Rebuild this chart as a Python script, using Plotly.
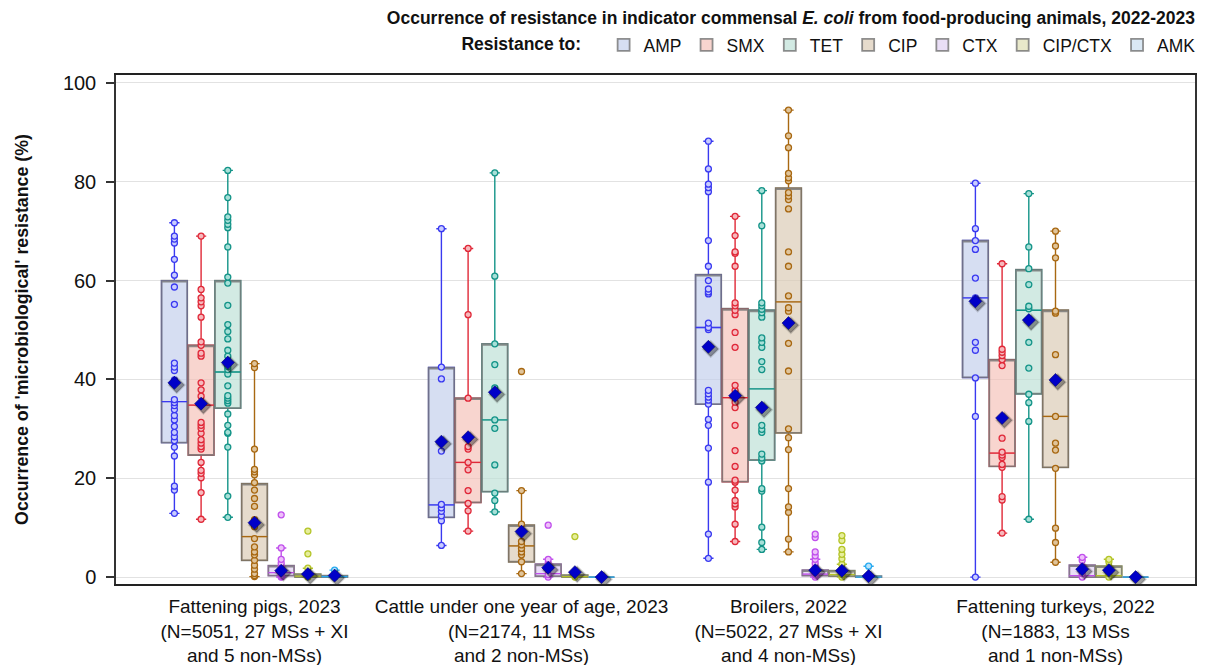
import plotly.graph_objects as go

# categories (x axis) and series
groups = [
    "Fattening pigs, 2023<br>(N=5051, 27 MSs + XI<br>and 5 non-MSs)",
    "Cattle under one year of age, 2023<br>(N=2174, 11 MSs<br>and 2 non-MSs)",
    "Broilers, 2022<br>(N=5022, 27 MSs + XI<br>and 4 non-MSs)",
    "Fattening turkeys, 2022<br>(N=1883, 13 MSs<br>and 1 non-MSs)",
]
antimicrobials = ["AMP", "SMX", "TET", "CIP", "CTX", "CIP/CTX", "AMK"]

# country-level resistance (%), per group
pigs = {
    "AMP": [71.7, 69.0, 68.4, 67.6, 64.3, 61.1, 58.7, 55.2, 43.3, 42.5, 41.8, 39.9, 35.9, 35.3, 34.7,
            33.9, 32.7, 31.8, 30.5, 29.3, 28.4, 27.6, 26.3, 24.5, 18.4, 17.6, 12.9],
    "SMX": [69.0, 58.2, 56.5, 55.7, 54.9, 52.6, 47.6, 46.9, 45.3, 44.7, 39.3, 37.9, 36.6, 35.1, 31.3,
            30.7, 30.1, 29.1, 27.8, 27.1, 26.4, 25.9, 23.2, 21.6, 21.0, 20.1, 17.1, 11.7],
    "TET": [82.3, 76.8, 72.9, 72.2, 71.4, 70.7, 66.8, 60.7, 59.5, 55.0, 51.1, 49.7, 48.2, 45.9, 44.7,
            42.6, 42.0, 41.1, 38.7, 36.7, 36.2, 35.7, 35.2, 33.0, 30.7, 29.3, 29.1, 26.3, 16.4, 12.1],
    "CIP": [43.2, 42.4, 25.9, 21.8, 21.3, 20.7, 19.1, 17.6, 15.9, 14.3, 11.6, 10.2, 7.8, 6.1, 5.1,
            4.5, 3.4, 2.4, 1.6, 0.7, 0.3, 0.1],
    "CTX": [12.6, 5.9, 3.6, 2.8, 2.1, 1.1, 0.6, 0.3, 0.1, 0.0],
    "CIP/CTX": [9.3, 4.7, 1.8, 0.7, 0.3, 0.1, 0.0],
    "AMK": [1.4, 0.4, 0.1, 0.0],
}
cattle = {
    "AMP": [70.5, 42.5, 40.1, 25.5, 14.7, 14.0, 13.3, 12.4, 11.4, 6.4],
    "SMX": [66.5, 53.1, 36.2, 28.0, 26.4, 25.9, 23.2, 21.7, 17.5, 14.9, 13.4, 9.3],
    "TET": [81.8, 60.9, 47.2, 43.0, 38.3, 31.8, 30.1, 22.7, 17.0, 15.5, 13.2],
    "CIP": [41.6, 17.5, 10.7, 7.2, 6.5, 5.8, 5.1, 4.5, 3.1, 0.7],
    "CTX": [10.5, 3.6, 2.8, 1.8, 0.5, 0.0],
    "CIP/CTX": [8.2, 0.4, 0.0],
    "AMK": [0.0, 0.0],
}
broilers = {
    "AMP": [88.2, 82.6, 79.5, 78.8, 78.0, 68.1, 62.9, 60.0, 58.3, 57.7, 57.3, 51.4, 50.5, 50.1, 37.8,
            37.1, 36.4, 35.8, 35.0, 31.9, 30.7, 26.1, 19.2, 8.7, 3.8],
    "SMX": [73.0, 69.1, 65.8, 65.5, 62.9, 55.5, 54.9, 54.0, 53.1, 49.5, 46.5, 38.8, 37.8, 36.9, 35.4,
            34.3, 30.7, 25.6, 22.4, 19.6, 19.2, 17.6, 15.5, 14.8, 14.2, 10.7, 7.2],
    "TET": [78.2, 71.1, 55.5, 54.9, 54.2, 53.5, 52.6, 48.4, 47.5, 46.5, 43.6, 42.0, 30.7, 29.9, 29.3,
            24.9, 24.1, 23.5, 17.9, 17.4, 10.1, 7.0, 5.6],
    "CIP": [94.5, 89.3, 86.9, 81.7, 80.8, 80.2, 77.8, 77.1, 76.4, 74.5, 65.8, 62.9, 56.9, 54.5, 53.8,
            47.3, 41.7, 30.0, 28.2, 25.8, 17.9, 14.2, 13.1, 7.7, 5.1],
    "CTX": [8.7, 8.0, 5.1, 4.3, 3.6, 2.8, 2.0, 0.8, 0.4, 0.0],
    "CIP/CTX": [8.4, 7.4, 5.6, 4.6, 3.7, 2.6, 1.5, 0.5, 0.0],
    "AMK": [2.2, 0.3, 0.0],
}
turkeys = {
    "AMP": [79.7, 70.5, 68.1, 66.3, 60.5, 56.5, 55.8, 47.5, 45.9, 40.3, 32.5, 0.0],
    "SMX": [63.4, 46.1, 45.5, 44.8, 44.0, 42.8, 28.1, 25.3, 24.7, 24.2, 22.8, 22.2, 16.3, 15.6, 8.9],
    "TET": [77.6, 66.8, 62.4, 59.2, 54.8, 54.3, 47.5, 42.3, 37.0, 35.3, 31.5, 11.7],
    "CIP": [70.0, 67.0, 64.6, 53.8, 53.4, 45.0, 32.5, 27.1, 25.7, 22.0, 9.9, 7.0, 3.0],
    "CTX": [4.0, 3.4, 2.1, 0.7, 0.0],
    "CIP/CTX": [3.6, 3.1, 2.1, 0.7, 0.0],
    "AMK": [0.0, 0.0],
}
points = [pigs, cattle, broilers, turkeys]

# box statistics per group (rows) and antimicrobial (columns)
whisk_lo = [[12.9, 11.7, 12.1, 0.1, 0.0, 0.0, 0.0],
            [6.4, 9.3, 13.2, 0.7, 0.0, 0.0, 0.0],
            [3.8, 7.2, 5.6, 5.1, 0.0, 0.0, 0.0],
            [0.0, 8.9, 11.7, 3.0, 0.0, 0.0, 0.0]]
q1 = [[27.2, 24.7, 34.2, 3.4, 0.3, 0.0, 0.0],
      [12.1, 15.1, 17.3, 3.1, 0.2, 0.0, 0.0],
      [35.0, 19.3, 23.7, 29.2, 0.3, 0.2, 0.0],
      [40.4, 22.4, 37.1, 22.2, 0.0, 0.0, 0.0]]
median = [[35.5, 34.8, 41.5, 8.2, 0.9, 0.2, 0.1],
          [14.6, 23.2, 31.8, 6.3, 0.7, 0.1, 0.0],
          [50.5, 36.3, 38.1, 55.7, 0.6, 0.5, 0.0],
          [56.5, 25.1, 54.0, 32.5, 0.3, 0.3, 0.0]]
q3 = [[60.0, 46.9, 60.0, 18.9, 2.3, 0.6, 0.3],
      [42.4, 36.2, 47.2, 10.5, 2.6, 0.4, 0.0],
      [61.2, 54.3, 54.0, 78.7, 1.4, 1.3, 0.2],
      [68.1, 44.0, 62.2, 54.0, 2.4, 2.2, 0.0]]
whisk_hi = [[71.7, 69.0, 82.3, 43.2, 5.9, 1.8, 1.4],
            [70.5, 66.5, 81.8, 17.5, 3.6, 0.5, 0.0],
            [88.2, 73.0, 78.2, 94.5, 3.6, 2.6, 2.2],
            [79.7, 63.4, 77.6, 70.0, 4.0, 3.6, 0.0]]
means = [[39.3, 35.1, 43.4, 11.0, 1.3, 0.6, 0.3],
         [27.4, 28.3, 37.4, 9.2, 1.9, 1.0, 0.0],
         [46.6, 36.7, 34.3, 51.4, 1.4, 1.3, 0.2],
         [55.8, 32.2, 52.0, 39.9, 1.6, 1.4, 0.0]]

line_colors = ["#3a3af0", "#e02838", "#149488", "#a86812", "#c050ec", "#b4c428", "#28aaf0"]
fill_colors = ["rgba(194,207,236,0.68)", "rgba(244,192,182,0.66)", "rgba(188,224,214,0.68)",
               "rgba(218,202,180,0.68)", "rgba(224,208,242,0.7)", "rgba(222,222,180,0.7)",
               "rgba(202,222,240,0.7)"]
dot_fill = ["#c8ccff", "#f6b8bc", "#a8e0d8", "#e0c49a", "#eec0fa", "#e6ee9c", "#b8e4fc"]

fig = go.Figure()
ng = len(groups)


def col_of(table, k):
    return [table[g][k] for g in range(ng)]


no_fill = "rgba(0,0,0,0)"

for k, ab in enumerate(antimicrobials):
    col = line_colors[k]
    # whiskers in series colour
    fig.add_trace(go.Box(
        x=groups, q1=col_of(q1, k), median=col_of(median, k), q3=col_of(q3, k),
        lowerfence=col_of(whisk_lo, k), upperfence=col_of(whisk_hi, k),
        offsetgroup=ab, name=ab, showlegend=False, boxpoints=False,
        line=dict(color=col, width=1.4), fillcolor=no_fill, whiskerwidth=0.4,
        hoverinfo="skip"))
    # grey-framed translucent box (also the legend swatch)
    fig.add_trace(go.Box(
        x=groups, q1=col_of(q1, k), median=col_of(q3, k), q3=col_of(q3, k),
        lowerfence=col_of(q1, k), upperfence=col_of(q3, k),
        offsetgroup=ab, name=ab, legendgroup=ab, showlegend=True, boxpoints=False,
        line=dict(color="rgba(115,115,115,0.8)", width=1.8), fillcolor=fill_colors[k],
        whiskerwidth=0, hoverinfo="skip"))
    # median line on top of the fill
    fig.add_trace(go.Box(
        x=groups, q1=col_of(median, k), median=col_of(median, k), q3=col_of(median, k),
        lowerfence=col_of(median, k), upperfence=col_of(median, k),
        offsetgroup=ab, name=ab, showlegend=False, boxpoints=False,
        line=dict(color=col, width=1.3), fillcolor=no_fill, whiskerwidth=0,
        hoverinfo="skip"))
    # individual country points
    xs, ys = [], []
    for g in range(ng):
        vals = points[g][ab]
        xs += [groups[g]] * len(vals)
        ys += vals
    fig.add_trace(go.Box(
        x=xs, y=ys, offsetgroup=ab, name=ab, showlegend=False,
        boxpoints="all", jitter=0, pointpos=0,
        line=dict(width=0, color=no_fill), fillcolor=no_fill,
        marker=dict(size=6, color=dot_fill[k], line=dict(color=col, width=1.3))))

# means as diamonds with a soft drop shadow, drawn last
for k, ab in enumerate(antimicrobials):
    fig.add_trace(go.Box(
        x=groups, y=[m - 0.45 for m in col_of(means, k)], offsetgroup=ab, name=ab,
        showlegend=False, boxpoints="all", jitter=0, pointpos=0.18, hoverinfo="skip",
        line=dict(width=0, color=no_fill), fillcolor=no_fill,
        marker=dict(symbol="diamond", size=12, color="rgba(0,0,0,0.38)",
                    line=dict(color="rgba(0,0,0,0.15)", width=2))))
    fig.add_trace(go.Box(
        x=groups, y=col_of(means, k), offsetgroup=ab, name=ab, showlegend=False,
        boxpoints="all", jitter=0, pointpos=0,
        line=dict(width=0, color=no_fill), fillcolor=no_fill,
        marker=dict(symbol="diamond", size=10, color="#0000c8",
                    line=dict(color="#00006a", width=0.6))))

# the page body has an 8 px margin, so the figure is sized to fit inside the window
W, H = 1202, 657
fig.update_layout(
    width=W, height=H,
    margin=dict(l=108, r=15, t=67, b=81, autoexpand=False),
    paper_bgcolor="white", plot_bgcolor="white",
    font=dict(family="Liberation Sans, Arial, sans-serif", color="#111"),
    boxmode="group", boxgap=0.3, boxgroupgap=0.04,
    title=dict(
        text="Occurrence of resistance in indicator commensal <i>E. coli</i> from food-producing animals, 2022-2023",
        x=1, xref="paper", xanchor="right", y=1 - 10 / H, yanchor="middle",
        font=dict(size=17.5, color="#111", weight="bold")),
    legend=dict(
        orientation="h", x=1.005, xanchor="right", yref="container", y=1 - 37 / H,
        yanchor="middle",
        font=dict(size=17.5), title=dict(text="<b>Resistance to:</b>   ", side="left",
                                         font=dict(size=17.5)),
        itemclick=False, bgcolor="rgba(0,0,0,0)"),
    showlegend=True,
)
fig.update_xaxes(
    showline=True, linecolor="#222", linewidth=2, mirror=True,
    tickfont=dict(size=19, color="#111"), showgrid=False, ticks="", ticklabelstandoff=4)
fig.update_yaxes(
    range=[-1.4, 101.6], tickvals=[0, 20, 40, 60, 80, 100],
    showline=True, linecolor="#333", linewidth=1.5, mirror=True,
    ticks="outside", ticklen=8, tickwidth=1.5, tickcolor="#333", ticklabelstandoff=6,
    tickfont=dict(size=20, color="#111"),
    showgrid=True, gridcolor="#e2e2e2", gridwidth=1, zeroline=False,
    title=dict(text="<b>Occurrence of 'microbiological' resistance (%)</b>",
               font=dict(size=17.8, color="#111"), standoff=30))

fig.write_html("out.html")
